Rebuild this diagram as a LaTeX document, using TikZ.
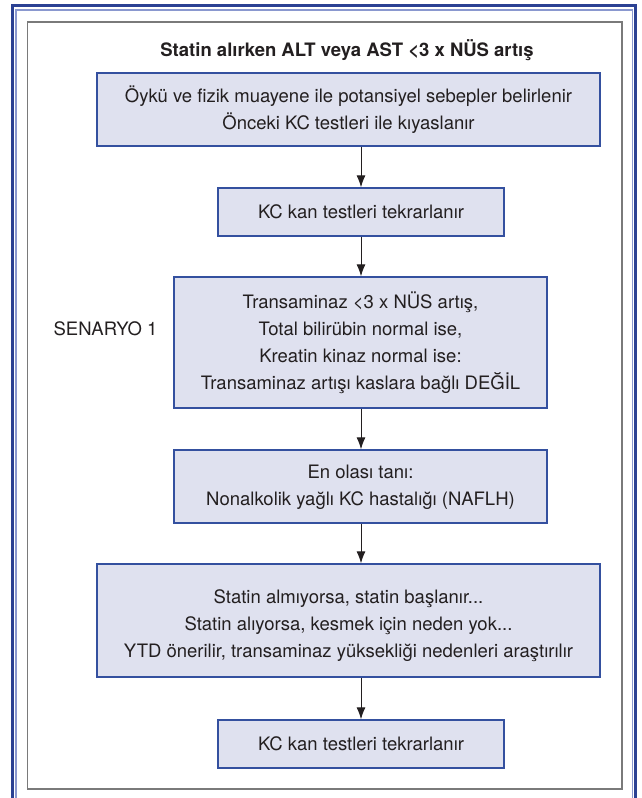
\documentclass[tikz,border=0pt]{standalone}
\usepackage{fontspec}
\setmainfont{TeX Gyre Heros}
\usetikzlibrary{arrows.meta}
\definecolor{boxfill}{HTML}{DFE1EF}
\definecolor{boxline}{HTML}{34509F}
\definecolor{ink}{HTML}{231F20}
\definecolor{framedark}{HTML}{2B4193}
\definecolor{framelight}{HTML}{8A98CF}
\definecolor{panelgray}{HTML}{7A7A7A}
\tikzset{
  flowbox/.style={draw=boxline, line width=1.3pt, fill=boxfill, text=ink,
    inner sep=0pt, align=center, font=\fontsize{18.5}{27}\selectfont},
  plainlabel/.style={text=ink, inner sep=0pt, font=\fontsize{18.5}{27}\selectfont},
  flowarrow/.style={draw=ink, line width=1pt, -{Latex[length=12pt,width=9pt]}}
}
\begin{document}
\begin{tikzpicture}[x=1pt,y=-1pt]
\useasboundingbox (0,0) rectangle (641,798);
% page frame: dark blue rule with a light inner rule
\draw[framedark, line width=3pt] (12.5,805) -- (12.5,5.8) -- (635.2,5.8) -- (635.2,805);
\draw[framelight, line width=1.5pt] (15.8,805) -- (15.8,9.8) -- (632.3,9.8) -- (632.3,805);
% grey panel
\draw[panelgray, line width=1.3pt] (27.5,22) rectangle (622,789);

\node[plainlabel, font=\fontsize{18.5}{27}\selectfont\bfseries] (title) at (347,50)
  {Statin alırken ALT veya AST <3 x NÜS artış};

\node[flowbox, minimum width=503pt, minimum height=73pt] (b1) at (348.5,109.5)
  {Öykü ve fizik muayene ile potansiyel sebepler belirlenir\\Önceki KC testleri ile kıyaslanır};
\node[flowbox, minimum width=286pt, minimum height=48pt] (b2) at (361,212)
  {KC kan testleri tekrarlanır};
\node[flowbox, minimum width=373pt, minimum height=131pt] (b3) at (360.5,342.5)
  {Transaminaz <3 x NÜS artış,\\Total bilirübin normal ise,\\Kreatin kinaz normal ise:\\Transaminaz artışı kaslara bağlı DEĞİL};
\node[plainlabel] (scen) at (105.5,329) {SENARYO 1};
\node[flowbox, minimum width=373pt, minimum height=73pt] (b4) at (360.5,486.5)
  {\rule{0pt}{16pt}En olası tanı:\\Nonalkolik yağlı KC hastalığı (NAFLH)};
\node[flowbox, minimum width=503pt, minimum height=113pt] (b5) at (348.5,620.5)
  {\rule{0pt}{24pt}Statin almıyorsa, statin başlanır...\\Statin alıyorsa, kesmek için neden yok...\\YTD önerilir, transaminaz yüksekliği nedenleri araştırılır};
\node[flowbox, minimum width=286pt, minimum height=48pt] (b6) at (361,744)
  {KC kan testleri tekrarlanır};

\draw[flowarrow] (b1.south -| b2.north) -- (b2.north);
\draw[flowarrow] (b2.south) -- (b3.north -| b2.south);
\draw[flowarrow] (b3.south -| b2.south) -- (b4.north -| b2.south);
\draw[flowarrow] (b4.south -| b2.south) -- (b5.north -| b2.south);
\draw[flowarrow] (b5.south -| b6.north) -- (b6.north);
\end{tikzpicture}
\end{document}
